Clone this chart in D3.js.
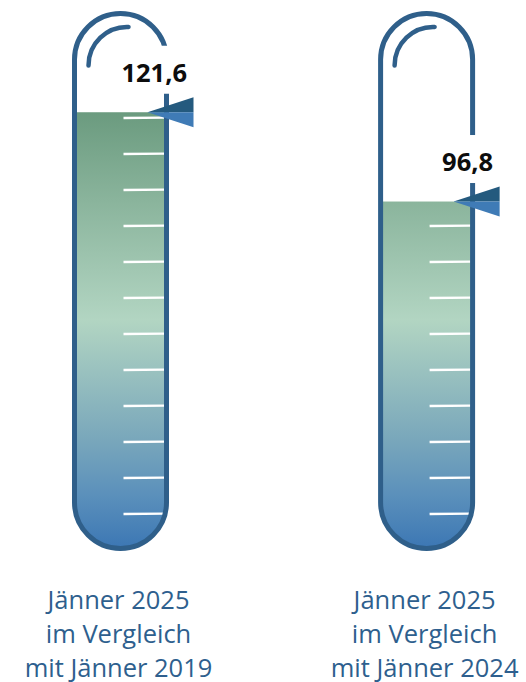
<!DOCTYPE html>
<html>
<head>
<meta charset="utf-8">
<script src="https://cdn.jsdelivr.net/npm/d3@7"></script>
<style>
  html, body { margin: 0; padding: 0; background: #fff; }
  svg { display: block; }
</style>
</head>
<body>
<svg id="chart" width="526" height="682"></svg>
<script>
// ---- data ----
const categories = ["Jänner 2025 im Vergleich mit Jänner 2019", "Jänner 2025 im Vergleich mit Jänner 2024"];
const captionLines = [
  ["Jänner 2025", "im Vergleich", "mit Jänner 2019"],
  ["Jänner 2025", "im Vergleich", "mit Jänner 2024"]
];
const values = [121.6, 96.8];
const tickValues = [10, 20, 30, 40, 50, 60, 70, 80, 90, 100, 110, 120];
const scaleDomain = [0, 150];

// ---- layout ----
const W = 526, H = 682;
const tubeW = 92, R = 46;
const tubeTop = 13.5, tubeBottom = 548.5;
const strokeW = 5;
const outline = "#2f5f8a";

const svg = d3.select("#chart");
const defs = svg.append("defs");

const x = d3.scalePoint().domain(categories).range([120.5, 426.6]);
const y = d3.scaleLinear().domain(scaleDomain).range([550, 10]);

const fmt = d3.formatLocale({decimal: ",", thousands: ".", grouping: [3], currency: ["", " €"]}).format(".1f");

// gradient in user space spanning the whole tube
const grad = defs.append("linearGradient")
  .attr("id", "liquid")
  .attr("gradientUnits", "userSpaceOnUse")
  .attr("x1", 0).attr("x2", 0)
  .attr("y1", tubeTop).attr("y2", tubeBottom);
[
  [0.0, "#5a8c6f"],
  [0.186, "#6b9b7f"],
  [0.35, "#8ab49c"],
  [0.573, "#b2d5c2"],
  [0.797, "#79a7bb"],
  [0.9, "#5b90bb"],
  [1.0, "#3c77b4"]
].forEach(([o, c]) => grad.append("stop").attr("offset", o).attr("stop-color", c));

function tubePath(cx) {
  const p = d3.path();
  const l = cx - tubeW / 2, r = cx + tubeW / 2;
  const topC = tubeTop + R, botC = tubeBottom - R;
  p.moveTo(l, botC);
  p.lineTo(l, topC);
  p.arc(cx, topC, R, Math.PI, 2 * Math.PI);
  p.lineTo(r, botC);
  p.arc(cx, botC, R, 0, Math.PI);
  p.closePath();
  return p.toString();
}

const g = svg.selectAll("g.thermo")
  .data(categories.map((c, i) => ({cat: c, value: values[i], lines: captionLines[i], i})))
  .join("g").attr("class", "thermo");

g.each(function(d) {
  const sel = d3.select(this);
  const cx = x(d.cat);
  const right = cx + tubeW / 2;
  const level = y(d.value);

  defs.append("clipPath").attr("id", "clip" + d.i)
    .append("path").attr("d", tubePath(cx));

  // liquid
  sel.append("rect")
    .attr("clip-path", `url(#clip${d.i})`)
    .attr("x", cx - tubeW / 2 - 5)
    .attr("width", tubeW + 10)
    .attr("y", level)
    .attr("height", tubeBottom - level + 5)
    .attr("fill", "url(#liquid)");

  // ticks
  sel.selectAll("line.tick")
    .data(tickValues)
    .join("line").attr("class", "tick")
    .attr("x1", right - 43).attr("x2", right - 2)
    .attr("y1", v => y(v)).attr("y2", v => y(v) - 0.4)
    .attr("stroke", "#fff")
    .attr("stroke-width", 2.4);

  // outline
  sel.append("path")
    .attr("d", tubePath(cx))
    .attr("fill", "none")
    .attr("stroke", outline)
    .attr("stroke-width", strokeW);

  // highlight arc
  const hp = d3.path();
  hp.arc(cx + 6.5, tubeTop + R + 6, 38.5, Math.PI, 1.5 * Math.PI + 0.04);
  sel.append("path")
    .attr("d", hp.toString())
    .attr("fill", "none")
    .attr("stroke", outline)
    .attr("stroke-width", 4.5)
    .attr("stroke-linecap", "round");

  // label box + text
  const arrowRight = right + 27;
  const baseline = level - 30.5;
  sel.append("rect")
    .attr("x", right - 60)
    .attr("y", baseline - 36)
    .attr("width", arrowRight - (right - 60))
    .attr("height", 48)
    .attr("fill", "#fff");
  sel.append("text")
    .attr("x", arrowRight - 6.5)
    .attr("y", baseline)
    .attr("text-anchor", "end")
    .attr("font-family", "'Open Sans', sans-serif")
    .attr("font-weight", 700)
    .attr("font-size", 25.5)
    .attr("fill", "#0d0d0d")
    .text(fmt(d.value));

  // arrow marker
  const tipX = right - 19;
  sel.append("path")
    .attr("d", `M${tipX},${level}L${arrowRight},${level - 15}L${arrowRight},${level}Z`)
    .attr("fill", "#245a7e");
  sel.append("path")
    .attr("d", `M${tipX},${level}L${arrowRight},${level}L${arrowRight},${level + 15}Z`)
    .attr("fill", "#3f7bb6");

  // caption
  sel.append("text")
    .attr("text-anchor", "middle")
    .attr("font-family", "'Open Sans', sans-serif")
    .attr("font-size", 25.5)
    .attr("fill", "#2e5f8e")
    .selectAll("tspan")
    .data(d.lines)
    .join("tspan")
    .attr("x", cx - 2)
    .attr("y", (t, k) => 609.3 + k * 33.6)
    .text(t => t);
});
</script>
</body>
</html>
